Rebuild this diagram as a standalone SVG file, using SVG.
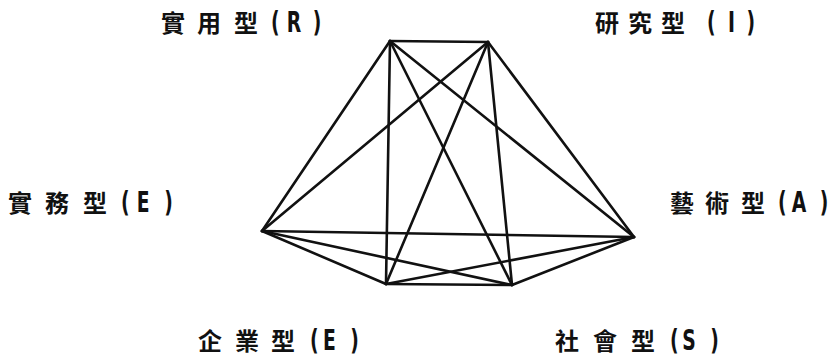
<svg xmlns="http://www.w3.org/2000/svg" width="834" height="357" viewBox="0 0 834 357">
<style>
.cj{font-family:"Noto Sans CJK TC","Noto Sans CJK SC",sans-serif;font-weight:bold;font-size:24px;fill:#111}
.lt{font-family:"DejaVu Sans Condensed","DejaVu Sans",sans-serif;font-weight:bold;font-size:29px;fill:#111}
.edge{stroke:#111;stroke-width:2.6;fill:none;stroke-linecap:round}
</style>
<rect width="834" height="357" fill="#fff"/>
<g id="connectors">
<line class="edge" x1="390" y1="41" x2="488" y2="42"/>
<line class="edge" x1="390" y1="41" x2="262" y2="231"/>
<line class="edge" x1="390" y1="41" x2="634" y2="237"/>
<line class="edge" x1="390" y1="41" x2="386" y2="284"/>
<line class="edge" x1="390" y1="41" x2="512" y2="285"/>
<line class="edge" x1="488" y1="42" x2="262" y2="231"/>
<line class="edge" x1="488" y1="42" x2="634" y2="237"/>
<line class="edge" x1="488" y1="42" x2="386" y2="284"/>
<line class="edge" x1="488" y1="42" x2="512" y2="285"/>
<line class="edge" x1="262" y1="231" x2="634" y2="237"/>
<line class="edge" x1="262" y1="231" x2="386" y2="284"/>
<line class="edge" x1="262" y1="231" x2="512" y2="285"/>
<line class="edge" x1="634" y1="237" x2="386" y2="284"/>
<line class="edge" x1="634" y1="237" x2="512" y2="285"/>
<line class="edge" x1="386" y1="284" x2="512" y2="285"/>
</g>
<g id="node-R">
<text y="32"><tspan class="cj" x="161">實</tspan><tspan class="cj" x="197">用</tspan><tspan class="cj" x="234">型</tspan></text>
<text class="lt" transform="translate(271,32) scale(0.72,1)"><tspan x="0">(</tspan><tspan x="22">R</tspan><tspan x="58">)</tspan></text>
</g>
<g id="node-I">
<text y="32"><tspan class="cj" x="595">研</tspan><tspan class="cj" x="628">究</tspan><tspan class="cj" x="661">型</tspan></text>
<text class="lt" transform="translate(707,32) scale(0.72,1)"><tspan x="0">(</tspan><tspan x="29">I</tspan><tspan x="55">)</tspan></text>
</g>
<g id="node-C">
<text y="212"><tspan class="cj" x="8">實</tspan><tspan class="cj" x="45">務</tspan><tspan class="cj" x="83">型</tspan></text>
<text class="lt" transform="translate(121,212) scale(0.72,1)"><tspan x="0">(</tspan><tspan x="22">E</tspan><tspan x="60">)</tspan></text>
</g>
<g id="node-A">
<text y="212"><tspan class="cj" x="670">藝</tspan><tspan class="cj" x="705">術</tspan><tspan class="cj" x="741">型</tspan></text>
<text class="lt" transform="translate(778,212) scale(0.72,1)"><tspan x="0">(</tspan><tspan x="19">A</tspan><tspan x="58">)</tspan></text>
</g>
<g id="node-E">
<text y="350"><tspan class="cj" x="198">企</tspan><tspan class="cj" x="235">業</tspan><tspan class="cj" x="271">型</tspan></text>
<text class="lt" transform="translate(310,350) scale(0.72,1)"><tspan x="0">(</tspan><tspan x="18">E</tspan><tspan x="56">)</tspan></text>
</g>
<g id="node-S">
<text y="350"><tspan class="cj" x="555">社</tspan><tspan class="cj" x="593">會</tspan><tspan class="cj" x="631">型</tspan></text>
<text class="lt" transform="translate(670,350) scale(0.72,1)"><tspan x="0">(</tspan><tspan x="17">S</tspan><tspan x="56">)</tspan></text>
</g>
</svg>
